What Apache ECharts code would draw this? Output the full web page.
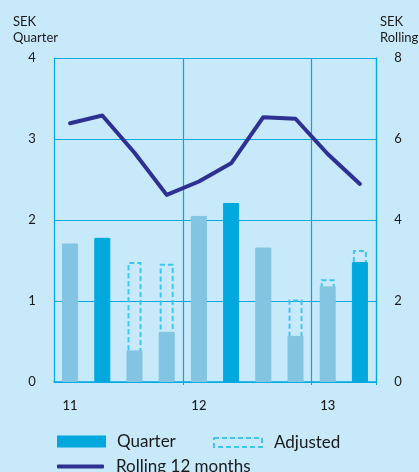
<!DOCTYPE html>
<html>
<head>
<meta charset="utf-8">
<script src="https://cdn.jsdelivr.net/npm/echarts@6/dist/echarts.min.js"></script>
<style>
html,body{margin:0;padding:0;background:#c8e9f9;}
#c{width:419px;height:472px;}
</style>
</head>
<body>
<div id="c"></div>
<script>
var categories = ['Q1 11','Q2 11','Q3 11','Q4 11','Q1 12','Q2 12','Q3 12','Q4 12','Q1 13','Q2 13'];
var yearLabels = ['11','','','','12','','','','13',''];
var quarterValues = [1.71, 1.78, 0.39, 0.62, 2.05, 2.21, 1.66, 0.57, 1.18, 1.48];
var highlighted = [false, true, false, false, false, true, false, false, false, true];
var adjustedValues = ['-', '-', 1.48, 1.46, '-', '-', '-', 1.02, 1.27, 1.63];
var rollingValues = [6.39, 6.58, 5.66, 4.62, 4.95, 5.40, 6.54, 6.50, 5.63, 4.89];
var leftTicks = [0, 1, 2, 3, 4];
var rightTicks = [0, 2, 4, 6, 8];

var FONT = 'Lato, "DejaVu Sans", sans-serif';
var TEXT = '#1a1a1a';
var GRID = '#00a9e0';
var DARK = '#00a8de';
var LIGHT = '#82c4e1';
var DASH = '#3ec6f0';
var NAVY = '#2e3192';

var chart = echarts.init(document.getElementById('c'), null, {renderer: 'canvas'});

var quarterData = quarterValues.map(function (v, i) {
  return {value: v, itemStyle: {color: highlighted[i] ? DARK : LIGHT, borderColor: highlighted[i] ? DARK : LIGHT}};
});

var option = {
  backgroundColor: '#c8e9f9',
  animation: false,
  textStyle: {fontFamily: FONT, color: TEXT},
  grid: {left: 54, right: 43, top: 58, bottom: 90, containLabel: false},
  graphic: [
    {type: 'text', left: 13, top: 14, style: {text: 'SEK\nQuarter', font: '13px ' + FONT, fill: TEXT, lineHeight: 16}},
    {type: 'text', left: 380, top: 14, style: {text: 'SEK\nRolling', font: '13px ' + FONT, fill: TEXT, lineHeight: 16}}
  ],
  legend: [
    {data: [{name: 'Quarter', icon: 'rect'}], left: 57, top: 433, padding: 0, itemWidth: 47, itemHeight: 10,
     textStyle: {fontSize: 17, color: TEXT, fontFamily: FONT, padding: [0, 0, 0, 7]}},
    {data: [{name: 'Adjusted', icon: 'rect'}], left: 213, top: 434, padding: 0, itemWidth: 48, itemHeight: 9,
     itemStyle: {color: 'rgba(0,0,0,0)', borderColor: DASH, borderWidth: 2, borderType: [5, 3]},
     textStyle: {fontSize: 17, color: TEXT, fontFamily: FONT, padding: [0, 0, 0, 7]}},
    {data: [{name: 'Rolling 12 months', icon: 'roundRect'}], left: 57, top: 458, padding: 0, itemWidth: 47, itemHeight: 4,
     textStyle: {fontSize: 17, color: TEXT, fontFamily: FONT, padding: [0, 0, 0, 7]}}
  ],
  xAxis: [
    {type: 'category', data: categories, boundaryGap: true,
     axisLine: {show: true, lineStyle: {color: GRID, width: 1.5}},
     axisTick: {show: true, length: 3, interval: function (i) { return i % 4 === 0 && i > 0; }, lineStyle: {color: GRID}},
     splitLine: {show: true, interval: function (i) { return i % 4 === 0 && i > 0; }, lineStyle: {color: GRID, width: 1.2}},
     axisLabel: {interval: 0, margin: 17, fontSize: 13, color: TEXT, fontFamily: FONT, fontWeight: 500,
       formatter: function (v) { return yearLabels[categories.indexOf(v)]; }}},
    {type: 'category', data: categories, boundaryGap: true, show: false, position: 'bottom'}
  ],
  yAxis: [
    {type: 'value', min: 0, max: 4, interval: 1, position: 'left',
     axisLine: {show: true, lineStyle: {color: GRID, width: 1.2}},
     axisTick: {show: false},
     splitLine: {show: true, lineStyle: {color: GRID, width: 1.2}},
     axisLabel: {margin: 22, fontSize: 13, color: TEXT, fontFamily: FONT, align: 'center',
       formatter: function (v) { return leftTicks.indexOf(v) >= 0 ? String(v) : ''; }}},
    {type: 'value', min: 0, max: 8, interval: 2, position: 'right',
     axisLine: {show: true, lineStyle: {color: GRID, width: 1.2}},
     axisTick: {show: false},
     splitLine: {show: false},
     axisLabel: {margin: 22, fontSize: 13, color: TEXT, fontFamily: FONT, align: 'center',
       formatter: function (v) { return rightTicks.indexOf(v) >= 0 ? String(v) : ''; }}}
  ],
  series: [
    {name: 'Adjusted', type: 'bar', xAxisIndex: 1, yAxisIndex: 0, barWidth: 14, z: 1,
     data: adjustedValues,
     itemStyle: {color: 'rgba(0,0,0,0)', borderColor: DASH, borderWidth: 2, borderType: [5, 3]}},
    {name: 'Quarter', type: 'bar', xAxisIndex: 0, yAxisIndex: 0, barWidth: 16, z: 3,
     data: quarterData,
     itemStyle: {color: DARK, borderColor: DARK, borderWidth: 1}},
    {name: 'Rolling 12 months', type: 'line', xAxisIndex: 0, yAxisIndex: 1, z: 5,
     data: rollingValues, showSymbol: false, symbol: 'none',
     lineStyle: {color: NAVY, width: 4, cap: 'round', join: 'round'},
     itemStyle: {color: NAVY}}
  ]
};
chart.setOption(option);
</script>
</body>
</html>
